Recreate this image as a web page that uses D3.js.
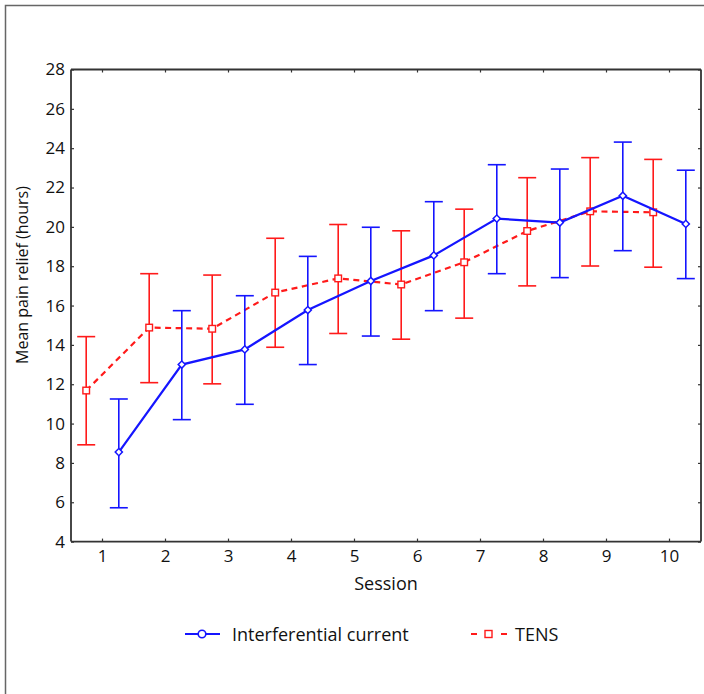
<!DOCTYPE html>
<html><head><meta charset="utf-8">
<script src="https://cdn.jsdelivr.net/npm/d3@7"></script>
<style>body{margin:0;background:#fff}svg{display:block}text{font-family:"Open Sans",sans-serif;fill:#111}</style>
</head><body><svg id="c" width="704" height="694"></svg>
<script>
const sessions = ["1","2","3","4","5","6","7","8","9","10"];
const icMean = [8.55, 13.0, 13.77, 15.77, 17.25, 18.55, 20.42, 20.22, 21.58, 20.15];
const icLow  = [5.72, 10.2, 10.98, 13.0, 14.45, 15.74, 17.62, 17.42, 18.79, 17.37];
const icHigh = [11.25, 15.74, 16.5, 18.5, 19.98, 21.28, 23.16, 22.94, 24.31, 22.88];
const tensMean = [11.68, 14.88, 14.82, 16.66, 17.38, 17.07, 18.2, 19.79, 20.79, 20.74];
const tensLow  = [8.92, 12.08, 12.02, 13.88, 14.58, 14.29, 15.36, 17.0, 18.01, 17.95];
const tensHigh = [14.42, 17.62, 17.55, 19.42, 20.12, 19.8, 20.9, 22.5, 23.52, 23.43];
const yTicks = [4,6,8,10,12,14,16,18,20,22,24,26,28];

const svg = d3.select("#c");
const L = 71, R = 701, T = 69.5, B = 541.6;
const x = d3.scaleBand().domain(sessions).range([L, R]);
const y = d3.scaleLinear().domain([4, 28]).range([B, T]);
const off = 16.3;
const blue = "#1515ff", red = "#ff1a1a", axisC = "#333";

// outer frame
svg.append("path").attr("d", "M5.5,694 L5.5,5.5 L704,5.5").attr("fill","none").attr("stroke","#666").attr("stroke-width",1.5);

// axes
const gL = svg.append("g").attr("transform",`translate(${L},0)`).call(d3.axisLeft(y).tickValues(yTicks).tickSize(-3).tickPadding(6).tickFormat(d3.format("d")));
const gR = svg.append("g").attr("transform",`translate(${R},0)`).call(d3.axisRight(y).tickValues(yTicks).tickSize(-3).tickFormat(""));
const gB = svg.append("g").attr("transform",`translate(0,${B})`).call(d3.axisBottom(x).tickSize(-3).tickPadding(8));
const gT = svg.append("g").attr("transform",`translate(0,${T})`).call(d3.axisTop(x).tickSize(-3).tickFormat(""));
[gL,gR,gB,gT].forEach(g=>{
  g.select(".domain").attr("stroke",axisC).attr("stroke-width",1.8);
  g.selectAll(".tick line").attr("stroke",axisC).attr("stroke-width",1.2);
  g.selectAll("text").attr("font-size",17).attr("fill","#111").attr("font-family","'Open Sans',sans-serif");
});
gL.select(".domain").attr("d",`M0,${B}V${T}`);
gR.select(".domain").attr("d",`M0,${B}V${T}`);
gB.select(".domain").attr("d",`M${L},0H${R}`);
gT.select(".domain").attr("d",`M${L},0H${R}`);

// titles
svg.append("text").attr("x",(L+R)/2).attr("y",590).attr("text-anchor","middle").attr("font-size",18).text("Session");
svg.append("text").attr("transform","translate(28,275) rotate(-90)").attr("text-anchor","middle").attr("font-size",16).text("Mean pain relief (hours)");

function series(mean, lo, hi, color, dx, dashed, marker){
  const cx = i => x(sessions[i]) + x.bandwidth()/2 + dx;
  const g = svg.append("g");
  sessions.forEach((s,i)=>{
    g.append("line").attr("x1",cx(i)).attr("x2",cx(i)).attr("y1",y(lo[i])).attr("y2",y(hi[i])).attr("stroke",color).attr("stroke-width",1.6);
    [lo[i],hi[i]].forEach(v=>g.append("line").attr("x1",cx(i)-9).attr("x2",cx(i)+9).attr("y1",y(v)).attr("y2",y(v)).attr("stroke",color).attr("stroke-width",1.6));
  });
  g.append("path").attr("d", d3.line().x((d,i)=>cx(i)).y(d=>y(d))(mean)).attr("fill","none").attr("stroke",color).attr("stroke-width",2.2).attr("stroke-dasharray",dashed?"6,4.5":null);
  mean.forEach((v,i)=>{
    if(marker==="diamond"){
      g.append("path").attr("d",d3.symbol(d3.symbolSquare,26)()).attr("transform",`translate(${cx(i)},${y(v)}) rotate(45)`).attr("fill","#fff").attr("stroke",color).attr("stroke-width",1.5);
    } else {
      g.append("rect").attr("x",cx(i)-3.3).attr("y",y(v)-3.3).attr("width",6.6).attr("height",6.6).attr("fill","#fff").attr("stroke",color).attr("stroke-width",1.4);
    }
  });
}
series(tensMean, tensLow, tensHigh, red, -off, true, "square");
series(icMean, icLow, icHigh, blue, off, false, "diamond");

// legend
const ly = 634;
svg.append("line").attr("x1",185).attr("x2",220).attr("y1",ly).attr("y2",ly).attr("stroke",blue).attr("stroke-width",2);
svg.append("circle").attr("cx",202).attr("cy",ly).attr("r",3.8).attr("fill","#fff").attr("stroke",blue).attr("stroke-width",1.6);
svg.append("text").attr("x",232).attr("y",ly+6.5).attr("font-size",18).text("Interferential current");
svg.append("line").attr("x1",471).attr("x2",507).attr("y1",ly).attr("y2",ly).attr("stroke",red).attr("stroke-width",2).attr("stroke-dasharray","6,24,6");
svg.append("rect").attr("x",485).attr("y",ly-3.5).attr("width",7).attr("height",7).attr("fill","#fff").attr("stroke",red).attr("stroke-width",1.4);
svg.append("text").attr("x",515).attr("y",ly+6.5).attr("font-size",18).text("TENS");
</script></body></html>
